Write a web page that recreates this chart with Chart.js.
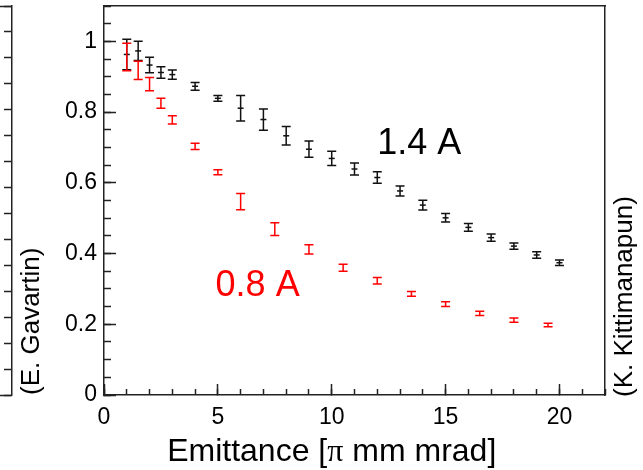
<!DOCTYPE html>
<html>
<head>
<meta charset="utf-8">
<script src="https://cdn.jsdelivr.net/npm/chart.js@4.4.1/dist/chart.umd.min.js"></script>
<style>
  html, body { margin: 0; padding: 0; background: #fff; }
  #wrap { width: 643px; height: 470px; }
</style>
</head>
<body>
<div id="wrap"><canvas id="emitChart" width="643" height="470"></canvas></div>
<script>
// ── Transmission vs emittance, two beam currents ─────────────────
const EMIT_14 = [1, 1.5, 2, 2.5, 3, 4, 5, 6, 7, 8, 9, 10, 11, 12, 13, 14, 15, 16, 17, 18, 19, 20];
const VAL_14  = [0.963, 0.973, 0.933, 0.912, 0.906, 0.873, 0.839, 0.811, 0.779, 0.733, 0.695,
                 0.669, 0.639, 0.615, 0.577, 0.537, 0.501, 0.474, 0.445, 0.421, 0.396, 0.374];
const ERR_14  = [0.043, 0.027, 0.022, 0.016, 0.013, 0.011, 0.008, 0.036, 0.030, 0.026, 0.023,
                 0.020, 0.017, 0.016, 0.014, 0.014, 0.012, 0.011, 0.010, 0.009, 0.009, 0.008];

const EMIT_08 = [1, 1.5, 2, 2.5, 3, 4, 5, 6, 7.5, 9, 10.5, 12, 13.5, 15, 16.5, 18, 19.5];
const VAL_08  = [0.956, 0.918, 0.879, 0.825, 0.778, 0.703, 0.630, 0.547, 0.469, 0.412,
                 0.360, 0.323, 0.286, 0.257, 0.231, 0.212, 0.198];
const ERR_08  = [0.039, 0.026, 0.019, 0.014, 0.012, 0.009, 0.007, 0.023, 0.018, 0.013,
                 0.010, 0.009, 0.007, 0.007, 0.006, 0.006, 0.005];

const X_TITLE   = ['Emittance [', 'π', ' mm mrad]'];
const Y_TITLE   = '(E. Gavartin)';
const R_CREDIT  = '(K. Kittimanapun)';

// ── Shared look ───────────────────────────────────────────────────
const FONT       = "'Liberation Sans', Arial, Helvetica, sans-serif";
const SERIF      = "'Liberation Serif', 'Times New Roman', serif";
const AXIS_COLOR = '#222';
const BLACK      = '#111';
const RED        = '#ff0000';
const CAP        = 4.5;

Chart.defaults.font.family = FONT;
Chart.defaults.color = '#000';

// series tags sit in data space
const TAGS = [
    { text: '1.4 A', x: 12,  y: 0.681, color: '#000' },
    { text: '0.8 A', x: 4.9, y: 0.280, color: RED }
];

const toPoints = (xs, ys) => xs.map((v, i) => ({ x: v, y: ys[i] }));
const plainNum = v => String(Number(v.toFixed(2)));

// force a box size and drop the label overhang padding
function boxSize(px) {
    return scale => {
        if (scale.isHorizontal()) scale.height = px; else scale.width = px;
        scale.paddingTop = scale.paddingBottom = scale.paddingLeft = scale.paddingRight = 0;
    };
}

function tickAxis(position, min, max, step, tickLen, size, weight, extra) {
    return Object.assign({
        type: 'linear',
        position,
        min, max,
        weight,
        afterFit: boxSize(size),
        ticks: { display: false, stepSize: step, includeBounds: false, autoSkip: false, maxRotation: 0 },
        grid: {
            drawOnChartArea: false,
            drawTicks: true,
            tickLength: tickLen,
            tickColor: AXIS_COLOR,
            tickWidth: 1.5
        },
        border: { display: false, color: AXIS_COLOR, width: 1.5 }
    }, extra || {});
}

// ── Error bars drawn through the y scale ──────────────────────────
const errorBars = {
    id: 'errorBars',
    afterDatasetDraw(chart, args) {
        const ds = chart.data.datasets[args.index];
        const yScale = chart.scales.y;
        const ctx = chart.ctx;
        ctx.save();
        ctx.strokeStyle = ds.barColor;
        ctx.lineWidth = 1.5;
        args.meta.data.forEach((pt, j) => {
            const v = ds.data[j].y;
            const top = yScale.getPixelForValue(v + ds.errors[j]);
            const bot = yScale.getPixelForValue(v - ds.errors[j]);
            ctx.beginPath();
            ctx.moveTo(pt.x, top);       ctx.lineTo(pt.x, bot);
            ctx.moveTo(pt.x - CAP, top); ctx.lineTo(pt.x + CAP, top);
            ctx.moveTo(pt.x - CAP, bot); ctx.lineTo(pt.x + CAP, bot);
            ctx.stroke();
        });
        ctx.restore();
    }
};

// ── Free text: series tags, x title, right-hand credit ───────────
const notes = {
    id: 'notes',
    afterDraw(chart) {
        const { ctx, scales } = chart;
        const x = scales.x, y = scales.y;
        ctx.save();

        ctx.font = '36px ' + FONT;
        ctx.textAlign = 'left';
        ctx.textBaseline = 'alphabetic';
        TAGS.forEach(t => {
            ctx.fillStyle = t.color;
            ctx.fillText(t.text, x.getPixelForValue(t.x), y.getPixelForValue(t.y));
        });

        // x title, pi set in a serif face
        const fonts = ['32px ' + FONT, '32px ' + SERIF, '32px ' + FONT];
        let total = 0;
        const widths = X_TITLE.map((s, i) => { ctx.font = fonts[i]; const w = ctx.measureText(s).width; total += w; return w; });
        let cx = x.getPixelForValue(10) - total / 2;
        const base = x.bottom - 9;
        ctx.fillStyle = '#000';
        X_TITLE.forEach((s, i) => { ctx.font = fonts[i]; ctx.fillText(s, cx, base); cx += widths[i]; });

        // credit on the right, reading upward
        const r = scales.yRight;
        ctx.font = '26px ' + FONT;
        ctx.textBaseline = 'middle';
        ctx.translate(r.left + 20, y.bottom + 2);
        ctx.rotate(-Math.PI / 2);
        ctx.fillText(R_CREDIT, 0, 0);

        ctx.restore();
    }
};

new Chart(document.getElementById('emitChart'), {
    type: 'scatter',
    data: {
        datasets: [
            {
                label: '0.8 A',
                data: toPoints(EMIT_08, VAL_08),
                errors: ERR_08,
                barColor: RED,
                pointRadius: 0,
                showLine: false
            },
            {
                label: '1.4 A',
                data: toPoints(EMIT_14, VAL_14),
                errors: ERR_14,
                barColor: BLACK,
                pointStyle: 'line',
                pointRadius: 3,
                borderColor: BLACK,
                borderWidth: 1.5,
                showLine: false
            }
        ]
    },
    options: {
        responsive: false,
        animation: false,
        layout: { padding: { top: 6, left: 0, right: 0, bottom: 0 } },
        plugins: { legend: { display: false }, tooltip: { enabled: false } },
        scales: {
            x: tickAxis('bottom', 0, 22, 5, -11, 75, 1, {
                ticks: { display: true, stepSize: 5, includeBounds: false, autoSkip: false, maxRotation: 0,
                         padding: 20, font: { size: 23 }, color: '#000', callback: plainNum },
                border: { display: true, color: AXIS_COLOR, width: 1.5 }
            }),
            xMinor: tickAxis('bottom', 0, 22, 1, -6, 0, 0),
            xTop: tickAxis('top', 0, 22, 22, 0, 0, 0, {
                grid: { drawOnChartArea: false, drawTicks: false },
                border: { display: true, color: AXIS_COLOR, width: 1.5 }
            }),
            y: tickAxis('left', 0, 1.1, 0.2, -12, 92, 1, {
                ticks: { display: true, stepSize: 0.2, includeBounds: false, autoSkip: false,
                         padding: 19, font: { size: 23 }, color: '#000', callback: plainNum },
                border: { display: true, color: AXIS_COLOR, width: 1.5 },
                title: {
                    display: true,
                    text: Y_TITLE,
                    align: 'start',
                    color: '#000',
                    font: { size: 26 },
                    padding: { top: 4, bottom: 0 }
                }
            }),
            yMinor: tickAxis('left', 0, 1.1, 0.05, -7, 0, 0),
            yRight: tickAxis('right', 0, 1.1, 1.1, 0, 38, 0, {
                grid: { drawOnChartArea: false, drawTicks: false },
                border: { display: true, color: AXIS_COLOR, width: 1.5 }
            }),
            // edge of the neighbouring panel on the far left
            yStub: tickAxis('left', 0, 15, 15, 12, 0, 2),
            yOld: tickAxis('left', 0, 15, 1, 8, 12, 3, {
                border: { display: true, color: AXIS_COLOR, width: 1.5 }
            })
        }
    },
    plugins: [errorBars, notes]
});
</script>
</body>
</html>
